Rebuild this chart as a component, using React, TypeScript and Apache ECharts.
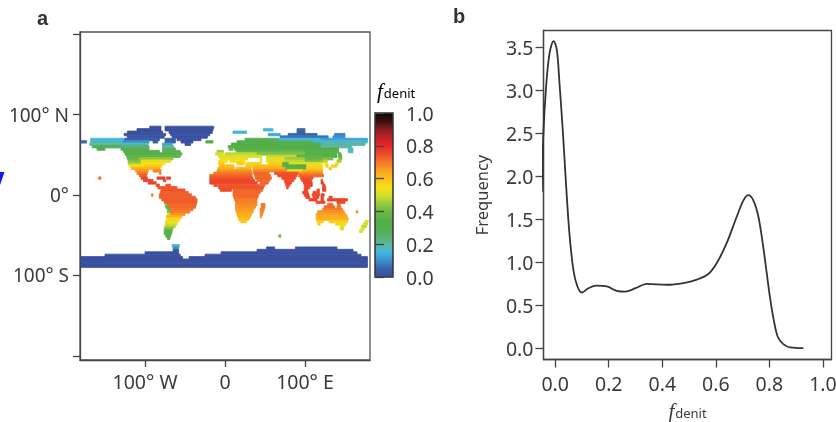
import React, { useEffect, useRef } from "react";
import * as echarts from "echarts";

const FONT = "'Noto Sans', sans-serif";
const INK = "#3a3a3a";

// colour scale, evenly spaced 0.0 .. 1.0
const scaleColors = ["#3a50a0","#3a60a8","#3a90d0","#42b8e0","#5cb89a","#58b06a","#52ae4a","#55b147","#6cb946","#9cc93e","#d8df2a","#f8e016","#fcc015","#f9a020","#f47a28","#ee4a2a","#e8262a","#c2202a","#8a1c20","#3a1010","#0a0a0a"];

// land runs: [latitude of a 3-degree row, [[lon start, lon end, fdenit], ...]]
const landRows: [number, number[][]][] = [
  [84, [[-94,-80,0],[-75,-14,0]]],
  [81, [[-110,-80,0],[-75,-15,0],[48,60,.15],[90,100,.06]]],
  [78, [[-122,-78,0],[-70,-16,0],[10,27,.15],[90,100,.05]]],
  [75, [[-126,-74,0],[-68,-19,0],[54,69,.13],[79,115,.05],[137,150,.08]]],
  [72, [[-122,-76,.02],[-66,-22,0],[69,129,.07],[135,150,.1]]],
  [69, [[-168,-125,.15],[-125,-82,.03],[-75,-62,.03],[-60,-30,0],[25,67,.28],[67,120,.15],[120,178,.12]]],
  [66, [[-180,-173,.06],[-168,-128,.17],[-128,-95,.1],[-90,-84,.05],[-75,-62,.05],[-55,-40,0],[-24,-15,.3],[15,60,.3],[60,110,.27],[110,178,.16]]],
  [63, [[-169,-130,.2],[-130,-96,.17],[-78,-66,.12],[-50,-43,0],[8,60,.31],[60,120,.29],[120,175,.2]]],
  [60, [[-166,-130,.28],[-130,-95,.24],[-78,-64,.2],[4,70,.32],[70,120,.3],[120,158,.2]]],
  [57, [[-160,-150,.3],[-130,-95,.28],[-78,-62,.25],[5,10,.38],[12,100,.33],[100,142,.3],[154,160,.15]]],
  [54, [[-127,-82,.3],[-78,-56,.28],[-10,-2,.45],[14,100,.38],[100,142,.33],[154,160,.18]]],
  [51, [[-125,-54,.33],[-12,-2,.5],[0,40,.48],[40,100,.42],[100,140,.35],[142,145,.3]]],
  [48, [[-123,-56,.36],[-8,40,.5],[40,46,.5],[52,90,.48],[90,125,.36],[125,140,.33],[142,146,.33]]],
  [45, [[-122,-108,.38],[-108,-65,.44],[-6,28,.53],[44,46,.53],[52,75,.52],[75,100,.45],[100,122,.38],[122,135,.42],[142,146,.42]]],
  [42, [[-121,-105,.42],[-105,-68,.52],[-8,3,.55],[6,25,.55],[44,46,.55],[52,75,.52],[75,100,.48],[100,122,.42],[122,128,.47],[140,145,.46]]],
  [39, [[-121,-105,.46],[-105,-75,.55],[-8,-1,.58],[15,24,.58],[26,45,.57],[54,72,.58],[72,80,.35],[80,98,.5],[98,122,.52],[124,128,.55],[138,142,.52]]],
  [36, [[-120,-100,.55],[-100,-79,.58],[-7,11,.6],[26,36,.58],[36,72,.6],[72,102,.3],[102,122,.56],[126,129,.58],[133,140,.58]]],
  [33, [[-117,-100,.62],[-100,-81,.62],[-9,12,.62],[14,32,.62],[35,76,.63],[76,102,.33],[102,122,.58],[130,133,.6]]],
  [30, [[-112,-96,.66],[-90,-80,.68],[-10,33,.66],[35,78,.68],[78,97,.56],[97,122,.62]]],
  [27, [[-110,-97,.7],[-82,-80,.7],[-14,34,.7],[36,55,.72],[62,92,.74],[92,122,.68]]],
  [24, [[-107,-98,.73],[-19,34,.72],[37,57,.72],[66,90,.75],[92,120,.72],[121,123,.74]]],
  [21, [[-158,-155,.7],[-105,-97,.75],[-85,-75,.76],[-73,-68,.76],[-19,35,.74],[38,58,.72],[71,88,.75],[94,110,.74]]],
  [18, [[-102,-90,.76],[-77,-74,.76],[-19,37,.76],[40,56,.72],[74,86,.75],[96,108,.76],[120,122,.76]]],
  [15, [[-96,-86,.76],[-19,40,.76],[44,54,.72],[75,83,.75],[98,109,.76],[120,123,.76]]],
  [12, [[-86,-82,.76],[-74,-68,.74],[-14,43,.74],[44,50,.72],[76,81,.75],[99,109,.76],[122,125,.76]]],
  [9, [[-84,-60,.74],[-8,48,.74],[77,79,.74],[99,106,.75],[122,126,.76]]],
  [6, [[-80,-50,.74],[-6,8,.75],[10,47,.72],[99,103,.76],[115,118,.75],[122,126,.76]]],
  [3, [[-81,-46,.73],[10,44,.72],[97,104,.76],[110,118,.75]]],
  [0, [[-92,-90,.7],[-82,-42,.73],[10,42,.72],[99,105,.76],[109,118,.75],[120,124,.76]]],
  [-3, [[-82,-37,.73],[11,41,.72],[101,106,.76],[110,117,.75],[120,123,.76],[130,134,.76]]],
  [-6, [[-79,-35,.73],[12,40,.7],[105,115,.76],[120,123,.76],[128,153,.76]]],
  [-9, [[-76,-35,.73],[13,40,.69],[114,125,.75],[140,150,.75]]],
  [-12, [[-75,-72,.42],[-72,-36,.72],[13,40,.68],[45,50,.7],[128,135,.72],[141,144,.72]]],
  [-15, [[-74,-71,.38],[-71,-37,.72],[13,38,.67],[45,50,.7],[124,137,.72],[140,145,.7]]],
  [-18, [[-72,-68,.36],[-68,-40,.71],[13,36,.66],[44,49,.7],[122,147,.7]]],
  [-21, [[-72,-68,.42],[-68,-44,.7],[14,35,.65],[44,48,.68],[116,149,.67],[164,166,.68]]],
  [-24, [[-72,-68,.5],[-68,-50,.67],[15,33,.63],[44,47,.68],[114,151,.65]]],
  [-27, [[-73,-54,.62],[16,32,.62],[44,46,.66],[114,153,.63]]],
  [-30, [[-73,-56,.56],[17,30,.6],[114,154,.62]]],
  [-33, [[-74,-58,.53],[19,27,.58],[115,123,.58],[130,153,.58],[175,179,.5]]],
  [-36, [[-75,-60,.52],[116,119,.58],[138,151,.56],[173,178,.5]]],
  [-39, [[-75,-62,.47],[144,149,.52],[171,177,.48]]],
  [-42, [[-76,-65,.42],[144,148,.5],[170,174,.5]]],
  [-45, [[-76,-66,.36],[168,172,.5]]],
  [-48, [[-76,-67,.33]]],
  [-51, [[-74,-68,.32],[67,70,.42]]],
  [-54, [[-72,-69,.3]]],
  [-63, [[-66,-57,.18]]],
  [-66, [[-65,-58,.1],[52,62,0],[88,140,0]]],
  [-69, [[-65,-58,.02],[40,160,0]]],
  [-72, [[-100,-58,0],[-5,165,0]]],
  [-75, [[-150,-56,0],[-25,170,0]]],
  [-78, [[-180,-53,0],[-45,178,0]]],
  [-81, [[-180,178,0]]],
  [-84, [[-180,178,0]]],
  [-87, [[-180,178,0]]],
  [-88.5, [[-180,178,0]]],
];
const ROW_HALF = 1.5;

const mapLonTicks = [-100, 0, 100];
const mapLatTicks = [200, 100, 0, -100, -200];
const barTicks = [0, 0.2, 0.4, 0.6, 0.8, 1.0];
const freqXTicks = [0, 0.2, 0.4, 0.6, 0.8, 1.0];
const freqYTicks = [0, 0.5, 1.0, 1.5, 2.0, 2.5, 3.0, 3.5];

const fdenitX = [-.05,-.044,-.034,-.021,-.006,.006,.016,.029,.041,.053,.068,.083,.1,.124,.155,.193,.23,.261,.3,.342,.417,.479,.529,.572,.603,.64,.678,.703,.721,.74,.759,.777,.802,.817,.832,.852,.877,.927];
const frequencyY = [1.82,2.5,3.04,3.43,3.57,3.47,3.08,2.5,1.88,1.34,.91,.72,.65,.70,.73,.72,.67,.66,.70,.75,.74,.76,.80,.865,.99,1.22,1.53,1.72,1.78,1.72,1.53,1.18,.60,.32,.13,.05,.012,.004];

const lonLabel = (v: number) => (v === 0 ? "0" : v < 0 ? `${-v}° W` : `${v}° E`);
const latLabel = (v: number) => (Math.abs(v) > 100 ? "" : v === 0 ? "0°" : v > 0 ? `${v}° N` : `${-v}° S`);

const fRich = {
  f: { fontFamily: "'Liberation Serif', serif", fontStyle: "italic", fontSize: 21, lineHeight: 18, color: INK, padding: [0, 1, 0, 0] },
  s: { fontFamily: FONT, fontSize: 13, lineHeight: 14, color: INK, verticalAlign: "bottom", padding: [3, 0, 0, 0] },
};

export default function App() {
  const ref = useRef<HTMLDivElement>(null);
  useEffect(() => {
    document.body.style.margin = "0";
    const chart = echarts.init(ref.current!, undefined, { renderer: "svg" });
    const cells = landRows.flatMap(([lat, runs]) => runs.map((r) => [r[0], r[1], lat, r[2]]));
    const line = { onZero: false, lineStyle: { color: "#444", width: 1.3 } };
    const tick = (len: number, customValues: number[]) => ({ show: true, length: len, customValues, lineStyle: { color: "#444", width: 1.3 } });
    const lab = (margin: number, customValues: number[], formatter: any, fontSize = 19.5) => ({ show: true, margin, customValues, formatter, color: INK, fontFamily: FONT, fontSize });
    const fix1 = (v: number) => v.toFixed(1);
    const gridBase = { outerBoundsMode: "none", show: true, backgroundColor: "transparent" };
    chart.setOption({
      animation: false,
      backgroundColor: "#fff",
      grid: [
        { ...gridBase, left: 80, top: 32, width: 290, height: 328, borderColor: "#555", borderWidth: 1.3 },
        { ...gridBase, left: 543.5, top: 30.5, width: 288, height: 329, borderColor: "#444", borderWidth: 1.3 },
        { ...gridBase, left: 375, top: 113, width: 18, height: 164, borderColor: "#333", borderWidth: 1.5, z: 10 },
      ],
      xAxis: [
        { type: "value", gridIndex: 0, min: -181.25, max: 181.25, splitLine: { show: false }, axisLine: line, axisTick: tick(7, mapLonTicks), axisLabel: lab(11, mapLonTicks, lonLabel) },
        { type: "value", gridIndex: 1, min: -0.0437, max: 1.032, splitLine: { show: false }, axisLine: line, axisTick: tick(8, freqXTicks), axisLabel: lab(14, freqXTicks, fix1),
          name: "{f|f}{s|denit}", nameLocation: "middle", nameGap: 42, nameTextStyle: { rich: fRich } },
        { type: "value", gridIndex: 2, show: false, min: 0, max: 1 },
      ],
      yAxis: [
        { type: "value", gridIndex: 0, min: -205, max: 202.5, splitLine: { show: false }, axisLine: line, axisTick: tick(7, mapLatTicks), axisLabel: lab(11, mapLatTicks, latLabel, 19) },
        { type: "value", gridIndex: 1, min: -0.128, max: 3.693, splitLine: { show: false }, axisLine: line, axisTick: tick(8, freqYTicks), axisLabel: lab(10, freqYTicks, fix1),
          name: "Frequency", nameLocation: "middle", nameGap: 54, nameTextStyle: { color: INK, fontFamily: FONT, fontSize: 16.5 } },
        { type: "value", gridIndex: 2, position: "right", min: 0, max: 1, splitLine: { show: false }, z: 10, axisLine: { show: false }, axisTick: tick(9, barTicks), axisLabel: lab(13, barTicks, fix1) },
      ],
      visualMap: {
        type: "continuous", show: true, seriesIndex: 0, dimension: 3, min: 0, max: 1, left: 375, top: 113, padding: 0,
        itemWidth: 18, itemHeight: 164, calculable: false, hoverLink: false,
        inRange: { color: scaleColors },
        textStyle: { color: "transparent", fontSize: 1 },
      },
      series: [
        {
          type: "custom", xAxisIndex: 0, yAxisIndex: 0, silent: true,
          encode: { x: [0, 1], y: 2 },
          data: cells,
          renderItem: (_p: any, api: any) => {
            const color = api.visual("color");
            const a = api.coord([api.value(0), api.value(2) + ROW_HALF]);
            const b = api.coord([api.value(1), api.value(2) - ROW_HALF]);
            return { type: "rect", shape: { x: a[0], y: a[1], width: b[0] - a[0], height: b[1] - a[1] }, style: { fill: color, stroke: color, lineWidth: 0.8 } };
          },
        },
        {
          type: "line", xAxisIndex: 1, yAxisIndex: 1, smooth: 0.35, showSymbol: false, clip: false,
          lineStyle: { color: "#333", width: 1.8 },
          data: fdenitX.map((x, i) => [x, frequencyY[i]]),
        },
      ],
      graphic: [
        { type: "text", left: 37, top: 8, style: { text: "a", fontFamily: "'Liberation Sans', sans-serif", fontWeight: "bold", fontSize: 20, fill: "#333" } },
        { type: "text", left: 453, top: 6, style: { text: "b", fontFamily: "'Liberation Sans', sans-serif", fontWeight: "bold", fontSize: 20, fill: "#333" } },
        { type: "text", left: 377, top: 80, style: { text: "{f|f}{s|denit}", rich: fRich } },
        { type: "polygon", shape: { points: [[0, 172], [4.5, 172], [0, 185]] }, style: { fill: "#1414ff" } },
      ],
    });
    return () => chart.dispose();
  }, []);
  return <div ref={ref} style={{ width: 836, height: 422, position: "absolute", left: 0, top: 0, filter: "blur(0.5px)" }} />;
}
